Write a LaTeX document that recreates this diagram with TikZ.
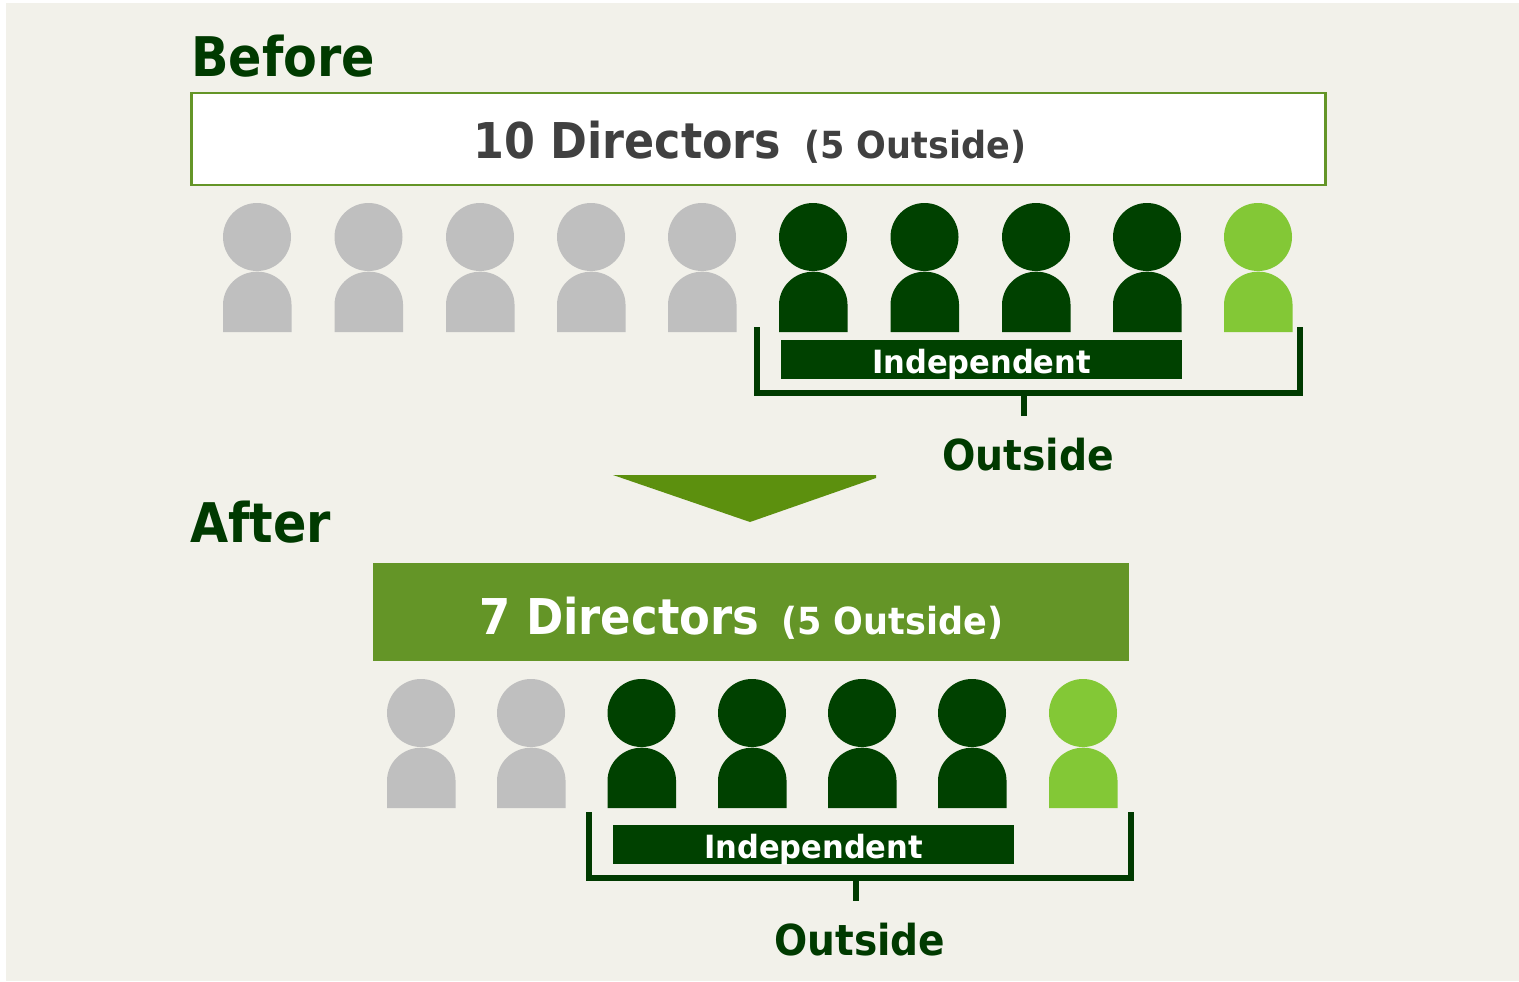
\documentclass[tikz,border=0pt]{standalone}
\usepackage{fontspec}
\setmainfont{DejaVu Sans}
\usetikzlibrary{calc}
\definecolor{bgc}{HTML}{F2F1EA}
\definecolor{dk}{HTML}{004100}
\definecolor{txtg}{HTML}{003A00}
\definecolor{lt}{HTML}{83C836}
\definecolor{gy}{HTML}{BFBFBF}
\definecolor{boxg}{HTML}{649527}
\definecolor{tri}{HTML}{5C900E}
\definecolor{ink}{HTML}{404040}
\newsavebox{\fitbox}
\newcommand{\fitw}[2]{\sbox{\fitbox}{#2}\pgfmathsetmacro{\fitscale}{#1*0.75/\wd\fitbox}\scalebox{\fitscale}[1]{\usebox{\fitbox}}}
\tikzset{x=0.75pt,y=-0.75pt,
  hd/.style={circle,inner sep=0pt,minimum size=51pt},
  head title/.style={font=\bfseries\fontsize{41}{41}\selectfont,text=txtg,inner sep=0pt,anchor=base west},
  indep/.style={fill=dk,text=white,font=\bfseries\fontsize{24}{24}\selectfont,inner sep=0pt,minimum width=300.75pt,text height=24.75pt,text depth=4.5pt},
  outs/.style={text=txtg,font=\bfseries\fontsize{32}{32}\selectfont,inner sep=0pt,anchor=base west},
  brk/.style={draw=txtg,line width=4pt,line join=miter},
  tick/.style={draw=txtg,line width=4.4pt},
  big/.style={font=\bfseries\fontsize{37}{37}\selectfont,inner sep=0pt,anchor=base west},
  small/.style={font=\bfseries\fontsize{28}{28}\selectfont,inner sep=0pt,anchor=base west}}
\newcommand{\person}[4]{% name, head x, head y, colour
  \node[hd,fill=#4] (#1) at (#2,#3) {};
  \fill[#4] ($(#2,#3)+(-34,95)$) -- ++(0,-27) arc[start angle=180,end angle=0,x radius=25.7pt,y radius=25pt] -- ++(0,27) -- cycle;
}
\begin{document}
\begin{tikzpicture}
\useasboundingbox (0,0) rectangle (1519,981);
\fill[white] (0,0) rectangle (1519,981);
\fill[bgc] (6,3) rectangle (1519,981);
% Before
\node[head title] (tb) at (191,76) {\fitw{184}{Before}};
\node[draw=boxg,fill=white,line width=2.2pt,minimum width=851pt,minimum height=69pt,inner sep=0pt] (bb) at (758.5,139) {};
\node[big,text=ink] (b1) at (473,158) {\fitw{308}{10 Directors}};
\node[small,text=ink] (b2) at (804,158) {\fitw{222}{(5 Outside)}};
\foreach \n/\x/\c in {a/257/gy,b/368.5/gy,c/480/gy,d/591/gy,e/702/gy,f/813/dk,g/924.5/dk,h/1036/dk,i/1147/dk,j/1258/lt}
  {\person{p\n}{\x}{237}{\c}}
\node[indep] (ib) at (981.5,359.5) {\fitw{219}{Independent}};
\coordinate (bl) at (757,327); \coordinate (br) at (1300,327);
\draw[brk] (bl) |- (br |- 0,393) -- (br);
\coordinate (bt) at (1024,393); \coordinate (bt2) at (1024,416);
\draw[tick] (bt) -- (bt2);
\node[outs] (ob) at (942,470) {\fitw{172}{Outside}};
% Arrow
\fill[tri] (613,475) -- (876,475) -- (876,478) -- (750,522) -- cycle;
% After
\node[head title] (ta) at (190,542) {\fitw{141}{After}};
\node[fill=boxg,minimum width=567pt,minimum height=73.5pt,inner sep=0pt] (ab) at (751,612) {};
\node[big,text=white] (a1) at (479,634) {\fitw{280}{7 Directors}};
\node[small,text=white] (a2) at (781,634) {\fitw{222}{(5 Outside)}};
\foreach \n/\x/\c in {a/421/gy,b/531/gy,c/641.5/dk,d/752/dk,e/862/dk,f/972/dk,g/1083/lt}
  {\person{q\n}{\x}{713}{\c}}
\node[indep] (ia) at (813.5,844.5) {\fitw{219}{Independent}};
\coordinate (al) at (589,812); \coordinate (ar) at (1131,812);
\draw[brk] (al) |- (ar |- 0,878) -- (ar);
\coordinate (at) at (856,878); \coordinate (at2) at (856,901);
\draw[tick] (at) -- (at2);
\node[outs] (oa) at (774,955) {\fitw{171}{Outside}};
\end{tikzpicture}
\end{document}
